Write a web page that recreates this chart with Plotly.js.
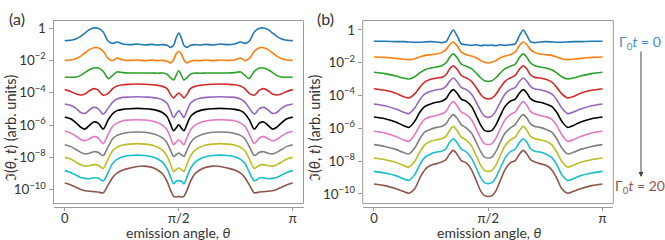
<!DOCTYPE html>
<html><head><meta charset="utf-8">
<script src="https://cdn.plot.ly/plotly-3.0.1.min.js"></script>
<style>html,body{margin:0;padding:0;background:#fff}#chart{width:665px;height:240px}</style>
</head><body><div id="chart"></div>
<script>
// emission angle grids (radians)
const thetaA = [0,0.08,0.16,0.22,0.28,0.34,0.40,0.46,0.53,0.60,0.66,0.72,0.80,0.90,1.00,1.10,1.20,1.28,1.35,1.41,1.46,1.50,1.535,1.571,
  1.607,1.642,1.682,1.732,1.792,1.862,1.942,2.042,2.142,2.242,2.342,2.422,2.482,2.542,2.612,2.682,2.742,2.802,2.862,2.922,2.982,3.062,3.142];
const thetaB = [0,0.15,0.30,0.40,0.48,0.56,0.63,0.70,0.78,0.86,0.93,0.99,1.04,1.09,1.14,1.20,1.27,1.34,1.41,1.47,1.52,1.571,
  1.622,1.672,1.732,1.802,1.872,1.942,2.002,2.052,2.102,2.152,2.212,2.282,2.362,2.442,2.512,2.582,2.662,2.742,2.842,2.992,3.142];

// panel (a): log10 of intensity (offset curves), Gamma0 t = 0 ... 20
const A_t0 = [-0.78,-0.76,-0.66,-0.52,-0.31,-0.10,0.00,-0.02,-0.25,-0.82,-0.95,-0.87,-0.99,-1.03,-0.99,-1.05,-1.01,-1.05,-1.03,-1.07,-1.20,-1.07,-0.62,-0.31,
  -0.62,-1.07,-1.20,-1.07,-1.03,-1.05,-1.01,-1.05,-0.99,-1.03,-0.99,-0.87,-0.95,-0.82,-0.25,-0.02,0.00,-0.10,-0.31,-0.52,-0.66,-0.76,-0.78];
const A_t2 = [-2.00,-1.98,-1.88,-1.74,-1.53,-1.34,-1.22,-1.22,-1.44,-1.90,-2.02,-1.86,-1.98,-2.00,-1.98,-2.02,-1.98,-2.02,-2.00,-2.06,-2.16,-1.96,-1.61,-1.44,
  -1.61,-1.96,-2.16,-2.06,-2.00,-2.02,-1.98,-2.02,-1.98,-2.00,-1.98,-1.86,-2.02,-1.90,-1.44,-1.22,-1.22,-1.34,-1.53,-1.74,-1.88,-1.98,-2.00];
const A_t4 = [-3.03,-3.05,-3.03,-2.93,-2.74,-2.58,-2.47,-2.47,-2.68,-3.13,-2.93,-2.72,-2.76,-2.78,-2.78,-2.78,-2.78,-2.80,-2.78,-2.85,-3.09,-3.22,-2.93,-2.64,
  -2.93,-3.22,-3.09,-2.85,-2.78,-2.80,-2.78,-2.78,-2.78,-2.78,-2.76,-2.72,-2.93,-3.13,-2.68,-2.47,-2.47,-2.58,-2.74,-2.93,-3.03,-3.05,-3.03];
const A_t6 = [-3.81,-3.92,-4.08,-4.14,-4.08,-3.88,-3.75,-3.84,-4.16,-4.04,-3.75,-3.59,-3.51,-3.48,-3.46,-3.48,-3.51,-3.55,-3.61,-3.75,-4.12,-4.33,-4.16,-4.02,
  -4.16,-4.33,-4.12,-3.75,-3.61,-3.55,-3.51,-3.48,-3.46,-3.48,-3.51,-3.59,-3.75,-4.04,-4.16,-3.84,-3.75,-3.88,-4.08,-4.14,-4.08,-3.92,-3.81];
const A_t8 = [-4.70,-4.78,-4.99,-5.22,-5.28,-5.07,-4.91,-4.99,-5.32,-4.95,-4.58,-4.39,-4.29,-4.27,-4.25,-4.27,-4.29,-4.35,-4.45,-4.66,-5.15,-5.53,-5.32,-5.11,
  -5.32,-5.53,-5.15,-4.66,-4.45,-4.35,-4.29,-4.27,-4.25,-4.27,-4.29,-4.39,-4.58,-4.95,-5.32,-4.99,-4.91,-5.07,-5.28,-5.22,-4.99,-4.78,-4.70];
const A_t10 = [-5.51,-5.61,-5.88,-6.14,-6.25,-6.02,-5.81,-5.88,-6.25,-5.67,-5.30,-5.11,-5.03,-4.99,-4.97,-4.99,-5.03,-5.11,-5.24,-5.48,-5.98,-6.35,-6.19,-5.98,
  -6.19,-6.35,-5.98,-5.48,-5.24,-5.11,-5.03,-4.99,-4.97,-4.99,-5.03,-5.11,-5.30,-5.67,-6.25,-5.88,-5.81,-6.02,-6.25,-6.14,-5.88,-5.61,-5.51];
const A_t12 = [-6.39,-6.49,-6.70,-6.89,-6.97,-6.85,-6.72,-6.80,-7.15,-6.56,-6.08,-5.88,-5.73,-5.69,-5.67,-5.69,-5.75,-5.86,-6.02,-6.31,-6.80,-7.22,-7.05,-6.93,
  -7.05,-7.22,-6.80,-6.31,-6.02,-5.86,-5.75,-5.69,-5.67,-5.69,-5.73,-5.88,-6.08,-6.56,-7.15,-6.80,-6.72,-6.85,-6.97,-6.89,-6.70,-6.49,-6.39];
const A_t14 = [-7.22,-7.32,-7.53,-7.69,-7.79,-7.75,-7.65,-7.69,-7.88,-7.32,-6.85,-6.64,-6.52,-6.45,-6.43,-6.45,-6.52,-6.64,-6.80,-7.11,-7.59,-7.94,-7.84,-7.73,
  -7.84,-7.94,-7.59,-7.11,-6.80,-6.64,-6.52,-6.45,-6.43,-6.45,-6.52,-6.64,-6.85,-7.32,-7.88,-7.69,-7.65,-7.75,-7.79,-7.69,-7.53,-7.32,-7.22];
const A_t16 = [-8.00,-8.10,-8.31,-8.45,-8.54,-8.52,-8.45,-8.49,-8.68,-8.08,-7.59,-7.38,-7.24,-7.18,-7.15,-7.18,-7.24,-7.38,-7.57,-7.92,-8.45,-8.87,-8.76,-8.66,
  -8.76,-8.87,-8.45,-7.92,-7.57,-7.38,-7.24,-7.18,-7.15,-7.18,-7.24,-7.38,-7.59,-8.08,-8.68,-8.49,-8.45,-8.52,-8.54,-8.45,-8.31,-8.10,-8.00];
const A_t18 = [-8.82,-8.93,-9.11,-9.24,-9.30,-9.32,-9.26,-9.28,-9.46,-8.91,-8.37,-8.12,-7.96,-7.88,-7.86,-7.88,-7.96,-8.10,-8.31,-8.70,-9.24,-9.63,-9.48,-9.44,
  -9.48,-9.63,-9.24,-8.70,-8.31,-8.10,-7.96,-7.88,-7.86,-7.88,-7.96,-8.12,-8.37,-8.91,-9.46,-9.28,-9.26,-9.32,-9.30,-9.24,-9.11,-8.93,-8.82];
const A_t20 = [-9.59,-9.69,-9.86,-9.98,-10.06,-10.10,-10.12,-10.14,-10.19,-9.69,-9.24,-8.97,-8.78,-8.66,-8.56,-8.54,-8.62,-8.78,-9.03,-9.48,-10.06,-10.41,-10.45,-10.41,
  -10.45,-10.41,-10.06,-9.48,-9.03,-8.78,-8.62,-8.54,-8.56,-8.66,-8.78,-8.97,-9.24,-9.69,-10.19,-10.14,-10.12,-10.10,-10.06,-9.98,-9.86,-9.69,-9.59];

// panel (b)
const B_t0 = [-0.70,-0.70,-0.72,-0.72,-0.74,-0.76,-0.76,-0.74,-0.72,-0.74,-0.78,-0.74,-0.34,-0.01,-0.34,-0.85,-0.91,-0.95,-0.91,-0.97,-0.93,-0.95,
  -0.93,-0.97,-0.91,-0.95,-0.91,-0.85,-0.34,-0.01,-0.34,-0.74,-0.78,-0.74,-0.72,-0.74,-0.76,-0.76,-0.74,-0.72,-0.72,-0.70,-0.70];
const B_t2 = [-1.66,-1.68,-1.74,-1.80,-1.82,-1.76,-1.66,-1.56,-1.52,-1.48,-1.39,-1.21,-0.91,-0.74,-0.95,-1.35,-1.52,-1.60,-1.72,-1.88,-1.98,-2.02,
  -1.98,-1.88,-1.72,-1.60,-1.52,-1.35,-0.95,-0.74,-0.91,-1.21,-1.39,-1.48,-1.52,-1.56,-1.66,-1.76,-1.82,-1.80,-1.74,-1.68,-1.66];
const B_t4 = [-2.59,-2.67,-2.82,-2.94,-3.00,-2.86,-2.63,-2.43,-2.33,-2.27,-2.19,-2.02,-1.68,-1.46,-1.68,-2.09,-2.23,-2.37,-2.66,-2.94,-3.10,-3.14,
  -3.10,-2.94,-2.66,-2.37,-2.23,-2.09,-1.68,-1.46,-1.68,-2.02,-2.19,-2.27,-2.33,-2.43,-2.63,-2.86,-3.00,-2.94,-2.82,-2.67,-2.59];
const B_t6 = [-3.59,-3.69,-3.87,-4.06,-4.16,-3.91,-3.51,-3.18,-3.02,-2.94,-2.90,-2.74,-2.39,-2.19,-2.39,-2.78,-2.94,-3.14,-3.55,-3.96,-4.16,-4.22,
  -4.16,-3.96,-3.55,-3.14,-2.94,-2.78,-2.39,-2.19,-2.39,-2.74,-2.90,-2.94,-3.02,-3.18,-3.51,-3.91,-4.16,-4.06,-3.87,-3.69,-3.59];
const B_t8 = [-4.52,-4.63,-4.83,-5.01,-5.11,-4.77,-4.26,-3.91,-3.75,-3.65,-3.61,-3.45,-3.14,-2.94,-3.14,-3.51,-3.65,-3.91,-4.46,-4.97,-5.26,-5.34,
  -5.26,-4.97,-4.46,-3.91,-3.65,-3.51,-3.14,-2.94,-3.14,-3.45,-3.61,-3.65,-3.75,-3.91,-4.26,-4.77,-5.11,-5.01,-4.83,-4.63,-4.52];
const B_t10 = [-5.32,-5.42,-5.62,-5.83,-5.95,-5.58,-5.03,-4.67,-4.52,-4.42,-4.36,-4.20,-3.85,-3.65,-3.85,-4.22,-4.36,-4.67,-5.28,-5.83,-6.13,-6.19,
  -6.13,-5.83,-5.28,-4.67,-4.36,-4.22,-3.85,-3.65,-3.85,-4.20,-4.36,-4.42,-4.52,-4.67,-5.03,-5.58,-5.95,-5.83,-5.62,-5.42,-5.32];
const B_t12 = [-6.19,-6.29,-6.50,-6.70,-6.80,-6.39,-5.83,-5.44,-5.30,-5.22,-5.13,-4.97,-4.61,-4.37,-4.61,-5.01,-5.17,-5.48,-6.09,-6.64,-6.94,-7.00,
  -6.94,-6.64,-6.09,-5.48,-5.17,-5.01,-4.61,-4.37,-4.61,-4.97,-5.13,-5.22,-5.30,-5.44,-5.83,-6.39,-6.80,-6.70,-6.50,-6.29,-6.19];
const B_t14 = [-7.00,-7.11,-7.29,-7.47,-7.57,-7.21,-6.64,-6.23,-6.07,-5.95,-5.89,-5.74,-5.38,-5.17,-5.38,-5.78,-5.99,-6.29,-6.90,-7.45,-7.76,-7.82,
  -7.76,-7.45,-6.90,-6.29,-5.99,-5.78,-5.38,-5.17,-5.38,-5.74,-5.89,-5.95,-6.07,-6.23,-6.64,-7.21,-7.57,-7.47,-7.29,-7.11,-7.00];
const B_t16 = [-7.82,-7.92,-8.08,-8.26,-8.37,-8.02,-7.45,-7.00,-6.80,-6.70,-6.64,-6.50,-6.13,-5.89,-6.13,-6.54,-6.72,-7.07,-7.72,-8.28,-8.57,-8.63,
  -8.57,-8.28,-7.72,-7.07,-6.72,-6.54,-6.13,-5.89,-6.13,-6.50,-6.64,-6.70,-6.80,-7.00,-7.45,-8.02,-8.37,-8.26,-8.08,-7.92,-7.82];
const B_t18 = [-8.63,-8.73,-8.89,-9.08,-9.18,-8.83,-8.22,-7.78,-7.57,-7.45,-7.41,-7.25,-6.86,-6.64,-6.86,-7.27,-7.45,-7.82,-8.47,-9.04,-9.32,-9.38,
  -9.32,-9.04,-8.47,-7.82,-7.45,-7.27,-6.86,-6.64,-6.86,-7.25,-7.41,-7.45,-7.57,-7.78,-8.22,-8.83,-9.18,-9.08,-8.89,-8.73,-8.63];
const B_t20 = [-9.40,-9.50,-9.69,-9.85,-9.96,-9.69,-9.04,-8.53,-8.26,-8.16,-8.06,-7.92,-7.57,-7.35,-7.57,-7.98,-8.12,-8.53,-9.24,-9.85,-10.11,-10.16,
  -10.11,-9.85,-9.24,-8.53,-8.12,-7.98,-7.57,-7.35,-7.57,-7.92,-8.06,-8.16,-8.26,-8.53,-9.04,-9.69,-9.96,-9.85,-9.69,-9.50,-9.40];

const seriesA = [A_t0,A_t2,A_t4,A_t6,A_t8,A_t10,A_t12,A_t14,A_t16,A_t18,A_t20];
const seriesB = [B_t0,B_t2,B_t4,B_t6,B_t8,B_t10,B_t12,B_t14,B_t16,B_t18,B_t20];
const gammaT = [0,2,4,6,8,10,12,14,16,18,20];
const colors = ['#1f77b4','#ff7f0e','#2ca02c','#d62728','#9467bd','#000000','#e377c2','#7f7f7f','#bcbd22','#17becf','#8c564b'];

const yTickVals = [1,1e-2,1e-4,1e-6,1e-8,1e-10];
const yTickText = ['1','10<sup>\u22122</sup>','10<sup>\u22124</sup>','10<sup>\u22126</sup>','10<sup>\u22128</sup>','10<sup>\u221210</sup>'];
const xTickVals = [0, Math.PI/2, Math.PI];
const xTickText = ['0','\u03c0/2','\u03c0'];

const W = 665, H = 240;
const px = v => v / W, py = v => 1 - v / H;

const traces = [];
seriesA.forEach((s, i) => traces.push({
  x: thetaA, y: s.map(e => Math.pow(10, e)), xaxis: 'x', yaxis: 'y', mode: 'lines',
  name: 'Γ0t=' + gammaT[i], line: {color: colors[i], width: 1.6, shape: 'spline', smoothing: 0.8}
}));
seriesB.forEach((s, i) => traces.push({
  x: thetaB, y: s.map(e => Math.pow(10, e)), xaxis: 'x2', yaxis: 'y2', mode: 'lines',
  name: 'Γ0t=' + gammaT[i], line: {color: colors[i], width: 1.6, shape: 'spline', smoothing: 0.8}
}));

const FAM = 'Lato, "Open Sans", sans-serif';
const tickFont = {family: FAM, size: 13.5, color: '#333'};
const xTickFont = {family: FAM, size: 13, color: '#333'};
const frameCol = '#9a9a9a';
const boxA = [px(53.5), px(303.5)], boxB = [px(362.7), px(613.3)];
const yDom = [py(203.5), py(20.5)];
const xPos = py(207);

function xax(dom) {
  return {domain: dom, range: [-0.155, 3.29], anchor: 'free', position: xPos,
    tickvals: xTickVals, ticktext: xTickText, ticks: 'outside', ticklen: 3, tickcolor: frameCol,
    ticklabelstandoff: -4,
    showline: true, linecolor: frameCol, linewidth: 1, showgrid: false, zeroline: false,
    tickfont: xTickFont, automargin: false, fixedrange: true};
}
function yax(anchor, range) {
  return {domain: yDom, type: 'log', range: range, anchor: anchor,
    tickvals: yTickVals, ticktext: yTickText, ticks: 'outside', ticklen: 4, tickcolor: frameCol,
    showline: false, showgrid: false, zeroline: false, tickfont: tickFont, automargin: false, fixedrange: true};
}

const txt = (x, y, text, extra) => Object.assign({xref: 'paper', yref: 'paper', x: px(x), y: py(y), text: text,
  showarrow: false, xanchor: 'center', yanchor: 'middle', font: {family: FAM, size: 14.5, color: '#333'}}, extra || {});

const layout = {
  width: W, height: H, margin: {l: 0, r: 0, t: 0, b: 0}, paper_bgcolor: '#fff', plot_bgcolor: '#fff',
  showlegend: false,
  xaxis: xax(boxA), yaxis: yax('x', [-10.853, 0.464]),
  xaxis2: xax(boxB), yaxis2: yax('x2', [-10.59, 0.567]),
  shapes: [
    {type: 'rect', xref: 'paper', yref: 'paper', x0: boxA[0], x1: boxA[1], y0: yDom[0], y1: yDom[1], line: {color: frameCol, width: 1}},
    {type: 'rect', xref: 'paper', yref: 'paper', x0: boxB[0], x1: boxB[1], y0: yDom[0], y1: yDom[1], line: {color: frameCol, width: 1}}
  ],
  annotations: [
    txt(17, 19, '(a)', {font: {family: FAM, size: 16, color: '#333'}}),
    txt(325, 19, '(b)', {font: {family: FAM, size: 16, color: '#333'}}),
    txt(10, 128, '\u2111(<i>\u03b8</i>, <i>t</i>) (arb. units)', {textangle: -90}),
    txt(314, 128, '\u2111(<i>\u03b8</i>, <i>t</i>) (arb. units)', {textangle: -90}),
    txt(178, 232.5, 'emission angle, <i>\u03b8</i>', {font: {family: FAM, size: 14, color: '#333'}}),
    txt(489, 232.5, 'emission angle, <i>\u03b8</i>', {font: {family: FAM, size: 14, color: '#333'}}),
    txt(640, 42, '\u0393<sub>0</sub><i>t</i> = 0', {font: {family: FAM, size: 14, color: '#3f8fc8'}}),
    txt(640, 186, '\u0393<sub>0</sub><i>t</i> = 20', {font: {family: FAM, size: 14, color: '#8c564b'}}),
    {xref: 'paper', yref: 'paper', x: px(641), y: py(177), ax: 0, ay: -127, text: '', showarrow: true,
      arrowhead: 2, arrowsize: 1, arrowwidth: 1, arrowcolor: '#444'}
  ]
};

Plotly.newPlot('chart', traces, layout, {staticPlot: true, displayModeBar: false});
</script></body></html>
